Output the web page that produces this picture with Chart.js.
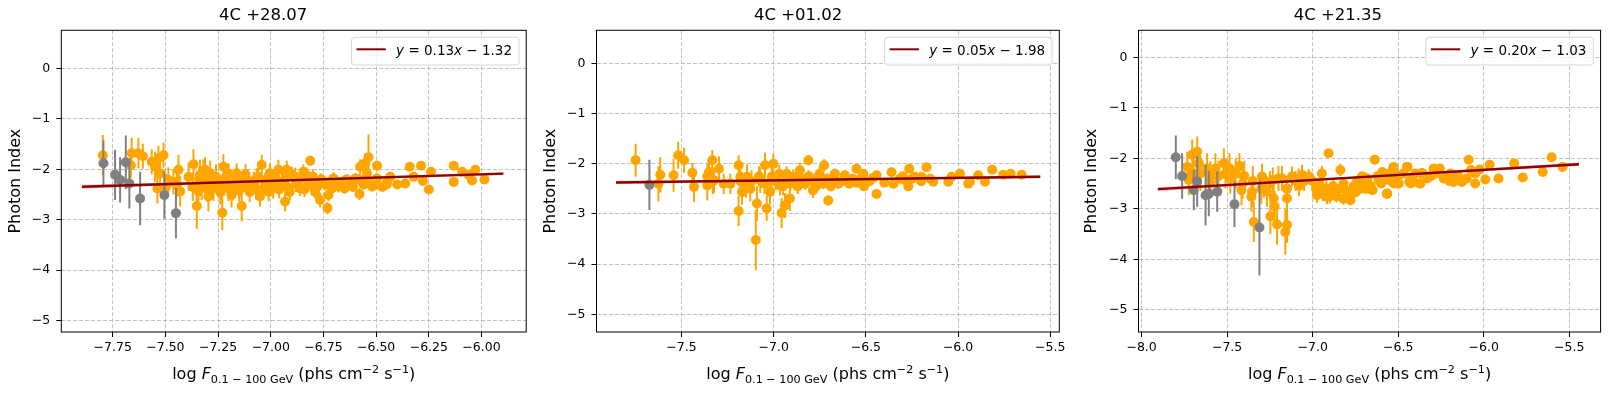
<!DOCTYPE html>
<html>
<head>
<meta charset="utf-8">
<script src="https://cdn.jsdelivr.net/npm/chart.js@4.4.1/dist/chart.umd.min.js"></script>
<style>
    body { margin: 0; background: #fff; width: 1612px; height: 394px; overflow: hidden; position: relative; }
    .panel { position: absolute; top: 0; height: 394px; }
</style>
</head>
<body>
<div class="panel" style="left:0;width:537px"><canvas id="c1"></canvas></div>
<div class="panel" style="left:537px;width:538px"><canvas id="c2"></canvas></div>
<div class="panel" style="left:1075px;width:537px"><canvas id="c3"></canvas></div>
<script>
// ========== DATA ==========
const titles = ['4C +28.07', '4C +01.02', '4C +21.35'];
const yTicks = [-5, -4, -3, -2, -1, 0];
const p1XTicks = [-7.75, -7.5, -7.25, -7.0, -6.75, -6.5, -6.25, -6.0];
const p2XTicks = [-7.5, -7.0, -6.5, -6.0, -5.5];
const p3XTicks = [-8.0, -7.5, -7.0, -6.5, -6.0, -5.5];

// fit: slope, intercept (legend text), line end points, confidence band [x, lo, hi]
const fitText = [['0.13', '1.32'], ['0.05', '1.98'], ['0.20', '1.03']];
const p1Fit = [[-7.896, -2.346], [-5.896, -2.086]];
const p2Fit = [[-7.855, -2.373], [-5.554, -2.258]];
const p3Fit = [[-7.905, -2.611], [-5.444, -2.119]];
const p1Band = [[-7.896, -2.386, -2.306], [-6.9, -2.232, -2.202], [-5.896, -2.116, -2.056]];
const p2Band = [[-7.855, -2.408, -2.338], [-6.7, -2.327, -2.303], [-5.554, -2.288, -2.228]];
const p3Band = [[-7.905, -2.651, -2.571], [-6.7, -2.385, -2.355], [-5.444, -2.154, -2.084]];

// points: [log flux, photon index, error]
const p1Gray = [
    [-7.794, -1.88, 0.45], [-7.739, -2.11, 0.50], [-7.715, -2.21, 0.45], [-7.688, -1.86, 0.53],
    [-7.671, -2.28, 0.50], [-7.620, -2.58, 0.53], [-7.505, -2.51, 0.47], [-7.450, -2.87, 0.50]
];
const p1Orange = [
    [-7.797, -1.72, 0.40], [-7.660, -1.68, 0.30], [-7.628, -1.68, 0.30], [-7.607, -1.74, 0.25],
    [-7.664, -1.92, 0.25], [-7.565, -1.85, 0.25], [-7.549, -1.95, 0.30], [-7.533, -1.78, 0.25],
    [-7.509, -1.72, 0.25], [-7.525, -2.08, 0.25], [-7.538, -2.38, 0.30], [-7.497, -2.34, 0.25],
    [-7.486, -2.21, 0.25], [-7.438, -2.01, 0.30], [-7.446, -2.31, 0.25], [-7.430, -2.44, 0.30],
    [-7.462, -2.25, 0.25], [-7.367, -1.90, 0.30], [-7.351, -2.73, 0.45], [-7.336, -2.11, 0.30],
    [-7.328, -2.31, 0.30], [-7.343, -2.44, 0.30], [-7.304, -2.21, 0.25], [-7.288, -2.08, 0.25],
    [-7.296, -2.54, 0.30], [-7.272, -2.38, 0.25], [-7.312, -2.01, 0.25], [-7.230, -2.86, 0.35],
    [-7.225, -1.95, 0.25], [-7.217, -2.18, 0.25], [-7.201, -2.38, 0.25], [-7.178, -2.28, 0.25],
    [-7.186, -2.51, 0.25], [-7.162, -2.08, 0.20], [-7.138, -2.73, 0.30], [-7.122, -2.25, 0.20],
    [-7.099, -2.34, 0.20], [-7.067, -2.18, 0.20], [-7.043, -1.91, 0.20], [-7.051, -2.54, 0.20],
    [-7.027, -2.28, 0.20], [-7.004, -2.08, 0.20], [-6.988, -2.38, 0.20], [-6.964, -2.01, 0.20],
    [-6.948, -2.25, 0.20], [-6.925, -2.15, 0.20], [-6.932, -2.64, 0.20], [-6.924, -2.01, 0.18],
    [-6.885, -2.15, 0.18], [-6.845, -2.05, 0.15], [-6.813, -1.83, 0.10], [-6.861, -2.38, 0.15],
    [-6.798, -2.34, 0.15], [-6.766, -2.25, 0.15], [-6.766, -2.61, 0.15], [-6.726, -2.51, 0.12],
    [-6.731, -2.77, 0.12], [-6.702, -2.18, 0.12], [-6.679, -2.34, 0.12], [-6.639, -2.28, 0.10],
    [-6.599, -2.18, 0.10], [-6.579, -2.49, 0.12], [-6.576, -1.95, 0.15], [-6.552, -1.88, 0.20],
    [-6.536, -1.76, 0.45], [-6.544, -2.08, 0.15], [-6.520, -2.34, 0.10], [-6.496, -1.93, 0.10],
    [-6.496, -2.18, 0.10], [-6.449, -2.25, 0.08], [-6.433, -2.15, 0.08], [-6.362, -2.28, 0.08],
    [-6.341, -1.95, 0.08], [-6.322, -2.15, 0.08], [-6.287, -1.93, 0.08], [-6.278, -2.23, 0.08],
    [-6.250, -2.40, 0.08], [-6.240, -2.05, 0.08], [-6.132, -1.93, 0.06], [-6.132, -2.25, 0.06],
    [-6.092, -2.05, 0.06], [-6.045, -2.22, 0.06], [-6.029, -2.01, 0.06], [-6.061, -2.11, 0.06],
    [-5.986, -2.20, 0.06],
    [-7.34, -2.20, 0.25], [-7.32, -2.05, 0.25], [-7.30, -2.40, 0.25], [-7.28, -2.25, 0.25],
    [-7.26, -2.15, 0.25], [-7.24, -2.45, 0.25], [-7.22, -2.30, 0.22], [-7.20, -2.10, 0.22],
    [-7.18, -2.40, 0.22], [-7.16, -2.20, 0.22], [-7.14, -2.35, 0.20], [-7.12, -2.10, 0.20],
    [-7.10, -2.45, 0.20], [-7.08, -2.25, 0.20], [-7.06, -2.15, 0.20], [-7.04, -2.40, 0.20],
    [-7.02, -2.20, 0.18], [-7.00, -2.30, 0.18], [-6.98, -2.15, 0.18], [-6.96, -2.40, 0.18],
    [-6.94, -2.25, 0.18], [-6.92, -2.35, 0.18], [-6.90, -2.10, 0.15], [-6.88, -2.30, 0.15],
    [-6.86, -2.20, 0.15], [-6.84, -2.40, 0.15], [-6.82, -2.25, 0.15], [-6.80, -2.15, 0.15],
    [-6.78, -2.35, 0.12], [-6.76, -2.20, 0.12], [-6.74, -2.30, 0.12], [-6.72, -2.25, 0.12],
    [-6.70, -2.20, 0.12], [-6.68, -2.30, 0.10], [-6.66, -2.25, 0.10], [-6.64, -2.20, 0.10],
    [-6.62, -2.28, 0.10], [-6.60, -2.22, 0.10], [-6.58, -2.20, 0.10], [-6.56, -2.30, 0.10],
    [-6.53, -2.25, 0.10], [-6.50, -2.30, 0.08], [-6.47, -2.35, 0.08], [-6.45, -2.30, 0.08],
    [-6.40, -2.30, 0.08],
    [-7.39, -2.15, 0.28], [-7.37, -2.35, 0.28], [-7.25, -2.32, 0.24], [-7.15, -2.42, 0.22],
    [-7.11, -2.22, 0.20], [-7.07, -2.40, 0.20], [-7.01, -2.45, 0.18], [-6.97, -2.30, 0.18],
    [-6.91, -2.45, 0.16], [-6.87, -2.22, 0.15], [-6.83, -2.12, 0.15], [-6.79, -2.45, 0.13],
    [-6.71, -2.38, 0.12], [-6.65, -2.38, 0.10], [-6.61, -2.35, 0.10], [-6.55, -2.20, 0.10]
];

const p2Gray = [[-7.674, -2.42, 0.50]];
const p2Orange = [
    [-7.749, -1.93, 0.33], [-7.615, -2.22, 0.35], [-7.625, -2.40, 0.35], [-7.543, -2.23, 0.33],
    [-7.518, -1.83, 0.27], [-7.486, -1.93, 0.25], [-7.441, -2.18, 0.20], [-7.432, -2.46, 0.30],
    [-7.360, -2.43, 0.30], [-7.351, -2.17, 0.25], [-7.333, -1.93, 0.20], [-7.324, -2.33, 0.25],
    [-7.297, -2.10, 0.25], [-7.271, -2.40, 0.20], [-7.235, -2.40, 0.20], [-7.190, -2.03, 0.20],
    [-7.190, -2.94, 0.30], [-7.181, -2.26, 0.25], [-7.172, -2.56, 0.25], [-7.145, -2.26, 0.25],
    [-7.127, -2.50, 0.25], [-7.097, -3.52, 0.60], [-7.091, -2.79, 0.35], [-7.073, -2.33, 0.25],
    [-7.038, -2.89, 0.25], [-7.047, -2.03, 0.25], [-7.020, -2.56, 0.25], [-7.002, -2.00, 0.20],
    [-7.011, -2.26, 0.20], [-6.966, -2.43, 0.20], [-6.957, -2.98, 0.30], [-6.939, -2.83, 0.25],
    [-6.912, -2.69, 0.25], [-6.930, -2.20, 0.15], [-6.894, -2.26, 0.15], [-6.858, -2.13, 0.15],
    [-6.812, -1.93, 0.10], [-6.823, -2.33, 0.15], [-6.787, -2.53, 0.15], [-6.751, -2.20, 0.15],
    [-6.726, -2.03, 0.12], [-6.704, -2.73, 0.10], [-6.759, -2.26, 0.12], [-6.668, -2.20, 0.10],
    [-6.614, -2.23, 0.10], [-6.551, -2.10, 0.08], [-6.514, -2.20, 0.08], [-6.442, -2.23, 0.08],
    [-6.442, -2.60, 0.08], [-6.361, -2.17, 0.06], [-6.316, -2.30, 0.06], [-6.265, -2.10, 0.06],
    [-6.234, -2.26, 0.06], [-6.171, -2.07, 0.06], [-6.135, -2.36, 0.06], [-6.053, -2.36, 0.05],
    [-5.990, -2.20, 0.05], [-6.035, -2.26, 0.05], [-5.936, -2.36, 0.05], [-5.891, -2.23, 0.05],
    [-5.854, -2.36, 0.05], [-5.815, -2.12, 0.05], [-5.755, -2.22, 0.05], [-5.715, -2.20, 0.05],
    [-5.655, -2.22, 0.05], [-6.288, -2.33, 0.06], [-6.198, -2.26, 0.06], [-5.945, -2.40, 0.05],
    [-6.99, -2.35, 0.18], [-6.97, -2.20, 0.18], [-6.95, -2.45, 0.18], [-6.93, -2.30, 0.15],
    [-6.91, -2.40, 0.15], [-6.89, -2.35, 0.15], [-6.87, -2.45, 0.15], [-6.85, -2.30, 0.15],
    [-6.83, -2.40, 0.12], [-6.81, -2.25, 0.12], [-6.79, -2.35, 0.12], [-6.77, -2.45, 0.12],
    [-6.75, -2.30, 0.12], [-6.73, -2.40, 0.10], [-6.71, -2.30, 0.10], [-6.69, -2.45, 0.10],
    [-6.67, -2.30, 0.10], [-6.65, -2.40, 0.10], [-6.63, -2.35, 0.08], [-6.61, -2.30, 0.08],
    [-6.59, -2.40, 0.08], [-6.57, -2.30, 0.08], [-6.55, -2.38, 0.08], [-6.53, -2.30, 0.08],
    [-6.51, -2.45, 0.08], [-6.48, -2.35, 0.06], [-6.46, -2.28, 0.06], [-6.40, -2.38, 0.06],
    [-6.35, -2.40, 0.06], [-6.30, -2.25, 0.06], [-6.25, -2.30, 0.06], [-6.27, -2.45, 0.06],
    [-6.20, -2.35, 0.05], [-6.15, -2.30, 0.05], [-7.05, -2.40, 0.20], [-7.08, -2.25, 0.20],
    [-7.12, -2.35, 0.22], [-7.15, -2.45, 0.22], [-7.18, -2.35, 0.22], [-7.33, -2.35, 0.25],
    [-7.36, -2.25, 0.25]
];

const p3Gray = [
    [-7.800, -1.98, 0.43], [-7.763, -2.35, 0.45], [-7.675, -2.46, 0.50], [-7.695, -2.63, 0.40],
    [-7.626, -2.73, 0.60], [-7.607, -2.70, 0.45], [-7.558, -2.66, 0.40], [-7.457, -2.91, 0.45],
    [-7.311, -3.37, 0.95]
];
const p3Orange = [
    [-7.733, -2.17, 0.30], [-7.724, -2.43, 0.30], [-7.704, -1.93, 0.30], [-7.675, -1.87, 0.30],
    [-7.665, -2.10, 0.30], [-7.695, -2.30, 0.30], [-7.656, -2.30, 0.35], [-7.617, -2.20, 0.30],
    [-7.597, -2.36, 0.30], [-7.568, -2.20, 0.30], [-7.519, -2.10, 0.30], [-7.510, -2.30, 0.30],
    [-7.486, -2.20, 0.30], [-7.481, -2.40, 0.30], [-7.428, -2.15, 0.25], [-7.416, -2.63, 0.30],
    [-7.409, -2.50, 0.30], [-7.354, -2.66, 0.30], [-7.358, -2.76, 0.30], [-7.344, -3.26, 0.40],
    [-7.296, -2.36, 0.25], [-7.286, -2.53, 0.25], [-7.267, -2.66, 0.30], [-7.247, -3.15, 0.35],
    [-7.228, -2.79, 0.30], [-7.222, -2.95, 0.30], [-7.208, -3.31, 0.40], [-7.233, -2.43, 0.25],
    [-7.179, -2.40, 0.25], [-7.160, -3.46, 0.45], [-7.150, -3.32, 0.35], [-7.150, -2.79, 0.30],
    [-7.150, -2.60, 0.25], [-7.121, -2.36, 0.20], [-7.082, -2.40, 0.20], [-7.062, -2.33, 0.20],
    [-7.023, -2.36, 0.15], [-6.975, -2.56, 0.15], [-6.975, -2.73, 0.15], [-6.946, -2.30, 0.15],
    [-6.907, -1.90, 0.08], [-6.916, -2.76, 0.15], [-6.868, -2.70, 0.15], [-6.838, -2.23, 0.12],
    [-6.790, -2.79, 0.12], [-6.761, -2.66, 0.12], [-6.820, -2.50, 0.12], [-6.712, -2.36, 0.10],
    [-6.779, -2.83, 0.10], [-6.689, -2.60, 0.10], [-6.637, -2.03, 0.08], [-6.650, -2.63, 0.10],
    [-6.567, -2.70, 0.10], [-6.580, -2.43, 0.08], [-6.527, -2.17, 0.08], [-6.507, -2.50, 0.08],
    [-6.446, -2.17, 0.06], [-6.435, -2.46, 0.06], [-6.376, -2.50, 0.06], [-6.365, -2.30, 0.06],
    [-6.749, -2.67, 0.10], [-6.700, -2.37, 0.10], [-6.671, -2.60, 0.10], [-6.613, -2.43, 0.08],
    [-6.593, -2.27, 0.08], [-6.564, -2.70, 0.08], [-6.554, -2.30, 0.08], [-6.529, -2.20, 0.06],
    [-6.525, -2.50, 0.06], [-6.496, -2.50, 0.06], [-6.448, -2.17, 0.06], [-6.428, -2.50, 0.06],
    [-6.370, -2.50, 0.05], [-6.360, -2.29, 0.05], [-6.308, -2.35, 0.05], [-6.292, -2.20, 0.05],
    [-6.257, -2.20, 0.05], [-6.234, -2.40, 0.05], [-6.195, -2.30, 0.05], [-6.176, -2.47, 0.05],
    [-6.127, -2.47, 0.05], [-6.088, -2.03, 0.05], [-6.075, -2.23, 0.05], [-6.050, -2.50, 0.05],
    [-6.024, -2.22, 0.05], [-5.991, -2.42, 0.05], [-5.966, -2.13, 0.05], [-5.914, -2.40, 0.05],
    [-5.822, -2.10, 0.05], [-5.772, -2.38, 0.05], [-5.655, -2.27, 0.05], [-5.603, -1.98, 0.05],
    [-5.539, -2.17, 0.05],
    [-7.00, -2.45, 0.15], [-6.98, -2.60, 0.15], [-6.96, -2.50, 0.15], [-6.94, -2.70, 0.15],
    [-6.92, -2.60, 0.15], [-6.90, -2.75, 0.15], [-6.88, -2.55, 0.12], [-6.86, -2.75, 0.12],
    [-6.84, -2.60, 0.12], [-6.82, -2.80, 0.12], [-6.80, -2.65, 0.12], [-6.78, -2.70, 0.12],
    [-6.76, -2.55, 0.10], [-6.74, -2.45, 0.10], [-6.72, -2.60, 0.10], [-6.70, -2.50, 0.10],
    [-6.68, -2.40, 0.10], [-6.66, -2.55, 0.10], [-6.62, -2.35, 0.08], [-6.60, -2.50, 0.08],
    [-6.56, -2.38, 0.08], [-6.54, -2.45, 0.08], [-6.50, -2.35, 0.06], [-6.47, -2.30, 0.06],
    [-6.42, -2.40, 0.06], [-6.40, -2.30, 0.06], [-6.33, -2.40, 0.05], [-6.28, -2.30, 0.05],
    [-6.22, -2.35, 0.05], [-6.20, -2.45, 0.05], [-6.15, -2.35, 0.05], [-6.10, -2.40, 0.05],
    [-6.05, -2.30, 0.05], [-7.60, -2.50, 0.30], [-7.55, -2.35, 0.30], [-7.45, -2.30, 0.30],
    [-7.40, -2.35, 0.30], [-7.35, -2.45, 0.30], [-7.30, -2.60, 0.30], [-7.25, -2.50, 0.25],
    [-7.20, -2.40, 0.25], [-7.10, -2.45, 0.20], [-7.05, -2.45, 0.20], [-7.08, -2.55, 0.20]
];

// ========== LAYOUT ==========
const panels = [
    { id: 'c1', title: titles[0], fit: fitText[0], xTicks: p1XTicks, dec: 2, xMin: -7.994, xMax: -5.788, yMin: -5.23, yMax: 0.76,
      areaLeft: 61.3, padRight: 10.8, ylabPad: 6, orange: p1Orange, gray: p1Gray, line: p1Fit, band: p1Band },
    { id: 'c2', title: titles[1], fit: fitText[1], xTicks: p2XTicks, dec: 1, xMin: -7.961, xMax: -5.451, yMin: -5.35, yMax: 0.657,
      areaLeft: 59.5, padRight: 15.7, ylabPad: 4, orange: p2Orange, gray: p2Gray, line: p2Fit, band: p2Band },
    { id: 'c3', title: titles[2], fit: fitText[2], xTicks: p3XTicks, dec: 1, xMin: -8.018, xMax: -5.317, yMin: -5.44, yMax: 0.535,
      areaLeft: 63.5, padRight: 11.4, ylabPad: 7, orange: p3Orange, gray: p3Gray, line: p3Fit, band: p3Band }
];

const FONT = '"DejaVu Sans"';
Chart.defaults.font.family = FONT;
Chart.defaults.color = '#000';

const ORANGE = '#ffa500';
const GRAY = '#808080';
const MINUS = '\u2212';

// error bar segments: (x, y-e) -> (x, y+e), gap
function errSegments(pts) {
    const out = [];
    pts.forEach(p => {
        out.push({ x: p[0], y: p[1] - p[2] }, { x: p[0], y: p[1] + p[2] }, { x: p[0], y: null });
    });
    return out;
}

function fmtTick(v, dec) {
    if (v === 0) return '0';
    const s = Math.abs(v).toFixed(dec);
    return v < 0 ? MINUS + s : s;
}

// draw text runs (mixed italic / sub / sup)
function measureRuns(ctx, runs) {
    let total = 0;
    runs.forEach(r => {
        ctx.font = (r.i ? 'italic ' : '') + r.s + 'px ' + FONT;
        r.w = ctx.measureText(r.t).width;
        total += r.w;
    });
    return total;
}
function drawRuns(ctx, runs, x, baseY) {
    ctx.textAlign = 'left';
    ctx.textBaseline = 'alphabetic';
    ctx.fillStyle = '#000';
    runs.forEach(r => {
        ctx.font = (r.i ? 'italic ' : '') + r.s + 'px ' + FONT;
        ctx.fillText(r.t, x, baseY + (r.dy || 0));
        x += r.w;
    });
}

// frame, legend and x label
const decorPlugin = {
    id: 'decor',
    afterDraw(chart) {
        const ctx = chart.ctx;
        const a = chart.chartArea;
        const cfg = chart.options.plugins.decor;
        ctx.save();

        // axes frame
        ctx.strokeStyle = '#000';
        ctx.lineWidth = 1;
        ctx.strokeRect(a.left, a.top, a.right - a.left, a.bottom - a.top);

        // legend
        const runs = [
            { t: 'y', s: 13.5, i: true }, { t: ' = ' + cfg.fit[0], s: 13.5 },
            { t: 'x', s: 13.5, i: true }, { t: ' ' + MINUS + ' ' + cfg.fit[1], s: 13.5 }
        ];
        const tw = measureRuns(ctx, runs);
        const bw = 5 + 29.3 + 10.3 + tw + 7;
        const bh = 27.7;
        const bx = a.right - 7.2 - bw;
        const by = a.top + 7;
        ctx.beginPath();
        ctx.roundRect(bx, by, bw, bh, 3);
        ctx.fillStyle = 'rgba(255,255,255,0.8)';
        ctx.fill();
        ctx.strokeStyle = '#d6d6d6';
        ctx.stroke();
        ctx.beginPath();
        ctx.moveTo(bx + 5, by + 12);
        ctx.lineTo(bx + 5 + 29.3, by + 12);
        ctx.strokeStyle = '#8b0000';
        ctx.lineWidth = 2;
        ctx.stroke();
        drawRuns(ctx, runs, bx + 5 + 29.3 + 10.3, by + 17.3);

        // x axis label
        const lab = [
            { t: 'log ', s: 16 }, { t: 'F', s: 16, i: true },
            { t: '0.1 ' + MINUS + ' 100 GeV', s: 11.2, dy: 3.5 },
            { t: ' (phs cm', s: 16 }, { t: MINUS + '2', s: 11.2, dy: -6.5 },
            { t: ' s', s: 16 }, { t: MINUS + '1', s: 11.2, dy: -6.5 }, { t: ')', s: 16 }
        ];
        const lw = measureRuns(ctx, lab);
        drawRuns(ctx, lab, (a.left + a.right) / 2 - lw / 2, 379);
        ctx.restore();
    }
};

function makePanel(p) {
    const ctx = document.getElementById(p.id).getContext('2d');
    const pointStyle = color => ({
        backgroundColor: color, borderWidth: 0, pointRadius: 5, pointHoverRadius: 5
    });
    const errStyle = color => ({
        type: 'line', borderColor: color, borderWidth: 2, pointRadius: 0, spanGaps: false, borderCapStyle: 'butt'
    });
    new Chart(ctx, {
        type: 'scatter',
        data: {
            datasets: [
                { type: 'line', data: p.line.map(q => ({ x: q[0], y: q[1] })), borderColor: '#8b0000', borderWidth: 2.4, pointRadius: 0, order: 1 },
                { type: 'line', data: p.band.map(q => ({ x: q[0], y: q[2] })), borderWidth: 0, pointRadius: 0,
                  fill: '+1', backgroundColor: 'rgba(225,70,70,0.35)', order: 2 },
                { type: 'line', data: p.band.map(q => ({ x: q[0], y: q[1] })), borderWidth: 0, pointRadius: 0, fill: false, order: 2 },
                Object.assign({ data: p.gray.map(q => ({ x: q[0], y: q[1] })), order: 3 }, pointStyle(GRAY)),
                Object.assign({ data: errSegments(p.gray), order: 4 }, errStyle(GRAY)),
                Object.assign({ data: p.orange.map(q => ({ x: q[0], y: q[1] })), order: 5 }, pointStyle(ORANGE)),
                Object.assign({ data: errSegments(p.orange), order: 6 }, errStyle(ORANGE))
            ]
        },
        options: {
            responsive: true,
            maintainAspectRatio: false,
            animation: false,
            events: [],
            layout: { padding: { left: 0, right: p.padRight, top: 0, bottom: 0 } },
            plugins: {
                legend: { display: false },
                tooltip: { enabled: false },
                title: {
                    display: true, text: p.title, color: '#000',
                    font: { size: 16.5, weight: 'normal' }, padding: { top: 6, bottom: 4.5 }
                },
                decor: { fit: p.fit }
            },
            scales: {
                x: {
                    type: 'linear', min: p.xMin, max: p.xMax,
                    afterFit: s => { s.height = 62; },
                    afterBuildTicks: s => { s.ticks = p.xTicks.map(v => ({ value: v })); },
                    ticks: {
                        callback: v => fmtTick(v, p.dec), font: { size: 12.5 }, color: '#000',
                        padding: 3, maxRotation: 0, autoSkip: false
                    },
                    grid: { color: '#b0b0b0', lineWidth: 0.8, tickColor: '#000', tickLength: 5, tickWidth: 1, tickBorderDash: [] },
                    border: { display: false, dash: [4, 2] }
                },
                y: {
                    min: p.yMin, max: p.yMax,
                    afterFit: s => { s.width = p.areaLeft; },
                    afterBuildTicks: s => { s.ticks = yTicks.map(v => ({ value: v })); },
                    ticks: { callback: v => fmtTick(v, 0), font: { size: 12.5 }, color: '#000', padding: 6 },
                    grid: { color: '#b0b0b0', lineWidth: 0.8, tickColor: '#000', tickLength: 5, tickWidth: 1, tickBorderDash: [] },
                    border: { display: false, dash: [4, 2] },
                    title: { display: true, text: 'Photon Index', color: '#000', font: { size: 16 }, padding: { top: p.ylabPad, bottom: 0 } }
                }
            }
        },
        plugins: [decorPlugin]
    });
}

document.addEventListener('DOMContentLoaded', function() {
    panels.forEach(makePanel);
});
</script>
</body>
</html>
